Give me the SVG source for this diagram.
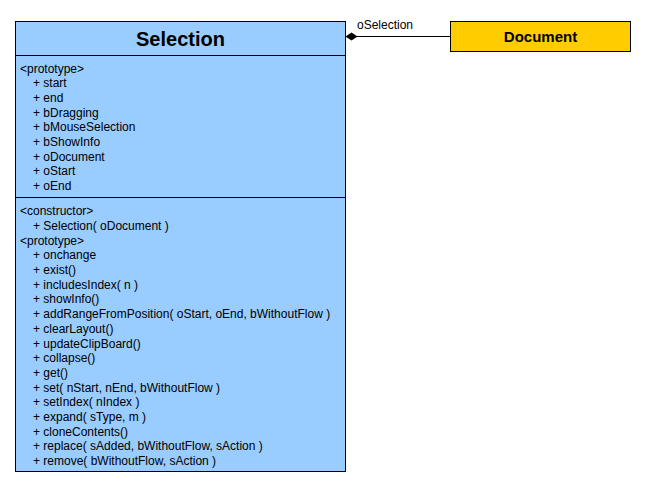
<svg xmlns="http://www.w3.org/2000/svg" width="645" height="486" viewBox="0 0 645 486">
<style>
.box{stroke:#000;stroke-width:1}
.t{font-family:"Liberation Sans",Arial,sans-serif;font-size:12px;fill:#000}
.title{font-family:"Liberation Sans",Arial,sans-serif;font-weight:bold;fill:#000;text-anchor:middle}
</style>
<rect width="645" height="486" fill="#fff"/>
<g id="connectors">
<line x1="345.5" y1="36.5" x2="450.5" y2="36.5" stroke="#000" stroke-width="1"/>
<polygon points="345.5,36.5 351.5,32.5 357.5,36.5 351.5,40.5" fill="#000"/>
<text class="t" x="357" y="29">oSelection</text>
</g>
<g id="Selection">
<rect class="box" x="15.5" y="21.5" width="330" height="450" fill="#99CCFF"/>
<line class="box" x1="15.5" y1="55.5" x2="345.5" y2="55.5"/>
<line class="box" x1="15.5" y1="197.5" x2="345.5" y2="197.5"/>
<text class="title" x="180.5" y="46" font-size="20">Selection</text>
<g class="t">
<text x="20" y="73">&lt;prototype&gt;</text>
<text x="33" y="87">+ start</text>
<text x="33" y="102">+ end</text>
<text x="33" y="117">+ bDragging</text>
<text x="33" y="131">+ bMouseSelection</text>
<text x="33" y="146">+ bShowInfo</text>
<text x="33" y="161">+ oDocument</text>
<text x="33" y="175">+ oStart</text>
<text x="33" y="190">+ oEnd</text>
<text x="20" y="215">&lt;constructor&gt;</text>
<text x="33" y="230">+ Selection( oDocument )</text>
<text x="20" y="244.5">&lt;prototype&gt;</text>
<text x="33" y="259">+ onchange</text>
<text x="33" y="274">+ exist()</text>
<text x="33" y="288.5">+ includesIndex( n )</text>
<text x="33" y="303">+ showInfo()</text>
<text x="33" y="318">+ addRangeFromPosition( oStart, oEnd, bWithoutFlow )</text>
<text x="33" y="332.5">+ clearLayout()</text>
<text x="33" y="347.5">+ updateClipBoard()</text>
<text x="33" y="362">+ collapse()</text>
<text x="33" y="376.5">+ get()</text>
<text x="33" y="391.5">+ set( nStart, nEnd, bWithoutFlow )</text>
<text x="33" y="406">+ setIndex( nIndex )</text>
<text x="33" y="421">+ expand( sType, m )</text>
<text x="33" y="435.5">+ cloneContents()</text>
<text x="33" y="450">+ replace( sAdded, bWithoutFlow, sAction )</text>
<text x="33" y="465">+ remove( bWithoutFlow, sAction )</text>
</g>
</g>
<g id="Document">
<rect class="box" x="450.5" y="21.5" width="180" height="30" fill="#FFCC00"/>
<text class="title" x="540.5" y="41.5" font-size="15">Document</text>
</g>
</svg>
